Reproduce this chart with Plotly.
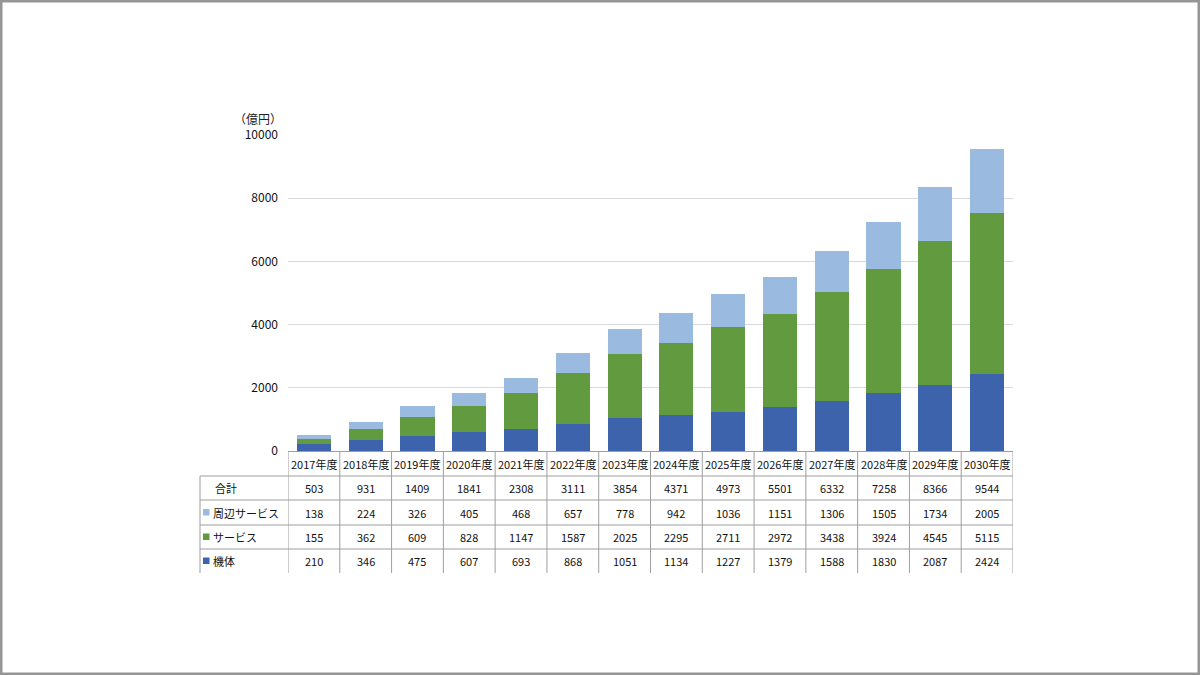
import plotly.graph_objects as go

years = ["2017年度", "2018年度", "2019年度", "2020年度", "2021年度", "2022年度", "2023年度",
         "2024年度", "2025年度", "2026年度", "2027年度", "2028年度", "2029年度", "2030年度"]
kitai = [210, 346, 475, 607, 693, 868, 1051, 1134, 1227, 1379, 1588, 1830, 2087, 2424]
service = [155, 362, 609, 828, 1147, 1587, 2025, 2295, 2711, 2972, 3438, 3924, 4545, 5115]
shuhen = [138, 224, 326, 405, 468, 657, 778, 942, 1036, 1151, 1306, 1505, 1734, 2005]
total = [503, 931, 1409, 1841, 2308, 3111, 3854, 4371, 4973, 5501, 6332, 7258, 8366, 9544]

series_names = ["機体", "サービス", "周辺サービス"]
series_vals = [kitai, service, shuhen]
series_colors = ["#3E63AD", "#629B3F", "#9BBAE0"]
y_ticks = [0, 2000, 4000, 6000, 8000, 10000]

W, H = 1200, 675
FONT = "Noto Sans CJK JP"
GRID = "#9e9e9e"

def px(x):
    return x / W

def py(y):
    return 1 - y / H

fig = go.Figure()
for name, vals, col in zip(series_names, series_vals, series_colors):
    fig.add_trace(go.Bar(x=years, y=vals, name=name, marker=dict(color=col, line=dict(width=0)),
                         width=0.66))

n = len(years)
shapes = []
annotations = []

left_x = 200
plot_l, plot_r = 288, 1013
row_edges = [451, 476, 500, 525, 549, 573]

for yy in row_edges[1:-1]:
    shapes.append(dict(type="line", xref="paper", yref="paper", x0=px(left_x), x1=px(plot_r),
                       y0=py(yy), y1=py(yy), line=dict(color=GRID, width=1)))
shapes.append(dict(type="line", xref="paper", yref="paper", x0=px(left_x), x1=px(left_x),
                   y0=py(row_edges[1]), y1=py(row_edges[-1]), line=dict(color=GRID, width=1)))
for i in range(n + 1):
    shapes.append(dict(type="line", xref="x", yref="paper", x0=i - 0.5, x1=i - 0.5,
                       y0=py(row_edges[0]), y1=py(row_edges[-1]), line=dict(color=GRID, width=1)))

def row_center(r):
    return py((row_edges[r] + row_edges[r + 1]) / 2)

TXT = dict(family=FONT, size=11, color="#111")

for yr in years:
    annotations.append(dict(x=yr, xref="x", y=row_center(0), yref="paper", text=yr, showarrow=False,
                            xanchor="center", yanchor="middle", font=TXT))

rows = [("合計", total, None), ("周辺サービス", shuhen, series_colors[2]),
        ("サービス", service, series_colors[1]), ("機体", kitai, series_colors[0])]
for r, (label, vals, col) in enumerate(rows, start=1):
    yc = row_center(r)
    cy = (row_edges[r] + row_edges[r + 1]) / 2
    if col is None:
        annotations.append(dict(x=px(213), xref="paper", y=yc, yref="paper", text=label, xanchor="left",
                                yanchor="middle", showarrow=False, font=TXT))
    else:
        shapes.append(dict(type="rect", xref="paper", yref="paper", x0=px(203), x1=px(209.5),
                           y0=py(cy + 3), y1=py(cy - 3.5), fillcolor=col, line=dict(width=0)))
        annotations.append(dict(x=px(211), xref="paper", y=yc, yref="paper", text=label, xanchor="left",
                                yanchor="middle", showarrow=False, font=TXT))
    for yr, v in zip(years, vals):
        annotations.append(dict(x=yr, xref="x", y=yc, yref="paper", text=str(v), showarrow=False,
                                xanchor="center", yanchor="middle", font=TXT))

annotations.append(dict(x=px(258), xref="paper", y=py(119), yref="paper", text="（億円）", showarrow=False,
                        xanchor="center", yanchor="middle", borderpad=0,
                        font=dict(family=FONT, size=12, color="#222")))

shapes.append(dict(type="rect", xref="paper", yref="paper", x0=0, x1=1, y0=0, y1=1,
                   line=dict(color="#959595", width=5), fillcolor="rgba(0,0,0,0)"))

fig.update_layout(
    width=W, height=H, margin=dict(l=0, r=0, t=0, b=0, pad=0, autoexpand=False),
    paper_bgcolor="white", plot_bgcolor="white",
    barmode="stack", bargap=0.34, showlegend=False,
    shapes=shapes, annotations=annotations,
    xaxis=dict(domain=[px(plot_l), px(plot_r)], range=[-0.5, n - 0.5], showticklabels=False,
               showgrid=False, showline=True, linecolor=GRID, linewidth=1, ticks="", zeroline=False,
               automargin=False),
    yaxis=dict(domain=[py(451), py(135)], range=[0, 10000], tickvals=y_ticks,
               ticktext=[str(v) for v in y_ticks],
               showgrid=True, gridcolor="#d9d9d9", gridwidth=1, zeroline=False, showline=False,
               ticks="", ticklabelstandoff=9, automargin=False,
               tickfont=dict(family=FONT, size=12, color="#111")),
)

fig.write_html("out.html", post_script="document.body.style.margin='0';")
